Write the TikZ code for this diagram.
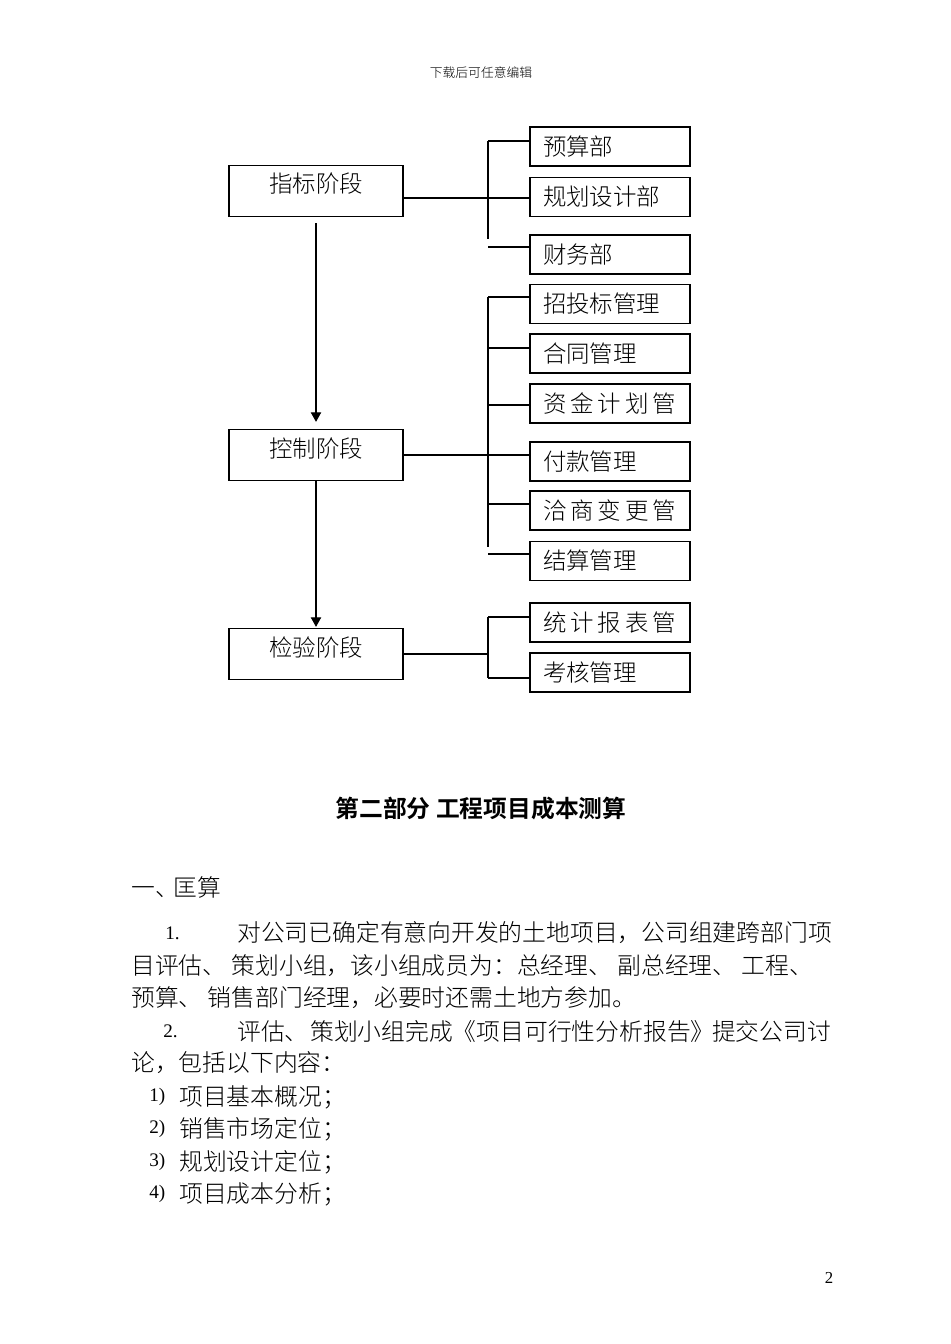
\documentclass[tikz,border=0pt]{standalone}
\usepackage{fontspec}
\setmainfont{Noto Sans CJK SC}[UprightFont=* Light, BoldFont=* Bold]
\newfontfamily\numfont{Liberation Serif}
\usetikzlibrary{arrows.meta}

\newcommand{\pxu}{0.6265pt}

\tikzset{
  stagebox/.style={draw, line width=0.8pt, minimum width=174*\pxu, minimum height=51*\pxu,
    inner sep=0pt, font=\fontsize{14.7pt}{17pt}\selectfont, text height=12*\pxu, text depth=8*\pxu},
  deptbox/.style={draw, line width=0.8pt, minimum height=39*\pxu, text width=134*\pxu,
    inner xsep=13*\pxu, inner ysep=0pt, align=left, font=\fontsize{14.7pt}{17pt}\selectfont},
  link/.style={line width=0.65pt},
  arr/.style={line width=0.65pt, -{Triangle[length=6pt,width=6.5pt]}},
  bodytext/.style={anchor=west, inner sep=0pt, font=\fontsize{14.9pt}{17pt}\selectfont},
  numtext/.style={anchor=west, inner sep=0pt, font=\numfont\fontsize{12pt}{13pt}\selectfont},
}

\begin{document}
\begin{tikzpicture}[x=\pxu, y=-\pxu]

\useasboundingbox [fill=white] (0,0) rectangle (950,1344);

\node (hdr) at (481, 73) [inner sep=0pt, font=\fontsize{8pt}{9pt}\selectfont] {下载后可任意编辑};

% stages
\node (idx)  at (316, 191) [stagebox] {指标阶段};
\node (ctrl) at (316, 455) [stagebox] {控制阶段};
\node (chk)  at (316, 654) [stagebox] {检验阶段};

\draw [arr, shorten <=6*\pxu, shorten >=7*\pxu] (idx) -- (ctrl);
\draw [arr, shorten >=1*\pxu] (ctrl) -- (chk);

% departments
\node (bud)  at (610, 146.5) [deptbox] {预算部};
\node (plan) at (610, 197)   [deptbox] {规划设计部};
\node (fin)  at (610, 254.5) [deptbox] {财务部};

\node (bid)  at (610, 304)   [deptbox] {招投标管理};
\node (con)  at (610, 353.5) [deptbox] {合同管理};
\node (fund) at (610, 403.5) [deptbox] {资\,金\,计\,划\,管};
\node (pay)  at (610, 461.5) [deptbox] {付款管理};
\node (chg)  at (610, 510.5) [deptbox] {洽\,商\,变\,更\,管};
\node (stl)  at (610, 561)   [deptbox] {结算管理};

\node (rep)  at (610, 622.5) [deptbox] {统\,计\,报\,表\,管};
\node (eva)  at (610, 672.5) [deptbox] {考核管理};

% brackets
\coordinate (a1) at (488, 141);
\coordinate (a2) at (488, 198);
\coordinate (a3) at (488, 239);
\coordinate (a4) at (488, 247);

\draw [link] (a1) -- (a3);
\draw [link] (a1) -- (a1 -| bud.west);
\draw [link] (idx.east |- a2) -- (a2 -| plan.west);
\draw [link] (a4) -- (a4 -| fin.west);

\coordinate (b1) at (488, 297);
\coordinate (b2) at (488, 348);
\coordinate (b3) at (488, 405);
\coordinate (b4) at (488, 504);
\coordinate (b5) at (488, 547);
\coordinate (b6) at (488, 554);

\draw [link] (b1) -- (b5);
\draw [link] (b1) -- (b1 -| bid.west);
\draw [link] (b2) -- (b2 -| con.west);
\draw [link] (b3) -- (b3 -| fund.west);
\draw [link] (ctrl.east) -- (ctrl.east -| pay.west);
\draw [link] (b4) -- (b4 -| chg.west);
\draw [link] (b6) -- (b6 -| stl.west);

\coordinate (c1) at (488, 617);
\coordinate (c2) at (488, 678);

\draw [link] (c1) -- (c2);
\draw [link] (c1) -- (c1 -| rep.west);
\draw [link] (c2) -- (c2 -| eva.west);
\draw [link] (chk.east) -- (chk.east -| c1);

% text
\node (ttl) at (481, 808) [inner sep=0pt, font=\fontsize{14.9pt}{17pt}\selectfont\bfseries] {第二部分 工程项目成本测算};

\node (sec) at (131, 887) [bodytext] {一、\hspace{-3.5pt}匡算};

\node (n1) at (165, 933) [numtext] {1.};
\node (l1) at (237, 933) [bodytext] {对公司已确定有意向开发的土地项目，公司组建跨部门项};
\node (l2) at (131, 966) [bodytext] {目评估、 策划小组，该小组成员为：总经理、 副总经理、 工程、};
\node (l3) at (131, 998) [bodytext] {预算、 销售部门经理，必要时还需土地方参加。};

\node (n2) at (163, 1031) [numtext] {2.};
\node (l4) at (237, 1031) [bodytext] {评估、\hspace{1pt}策划小组完成《项目可行性分析报告》\hspace{-1.5pt}提交公司讨};
\node (l5) at (131, 1063) [bodytext] {论，包括以下内容：};

\node (i1) at (149, 1097) [numtext] {1)};
\node (t1) at (179, 1097) [bodytext] {项目基本概况；};
\node (i2) at (149, 1129) [numtext] {2)};
\node (t2) at (179, 1129) [bodytext] {销售市场定位；};
\node (i3) at (149, 1162) [numtext] {3)};
\node (t3) at (179, 1162) [bodytext] {规划设计定位；};
\node (i4) at (149, 1194) [numtext] {4)};
\node (t4) at (179, 1194) [bodytext] {项目成本分析；};

\node (pg) at (829, 1278) [inner sep=0pt, font=\numfont\fontsize{10.5pt}{12pt}\selectfont] {2};

\end{tikzpicture}
\end{document}
